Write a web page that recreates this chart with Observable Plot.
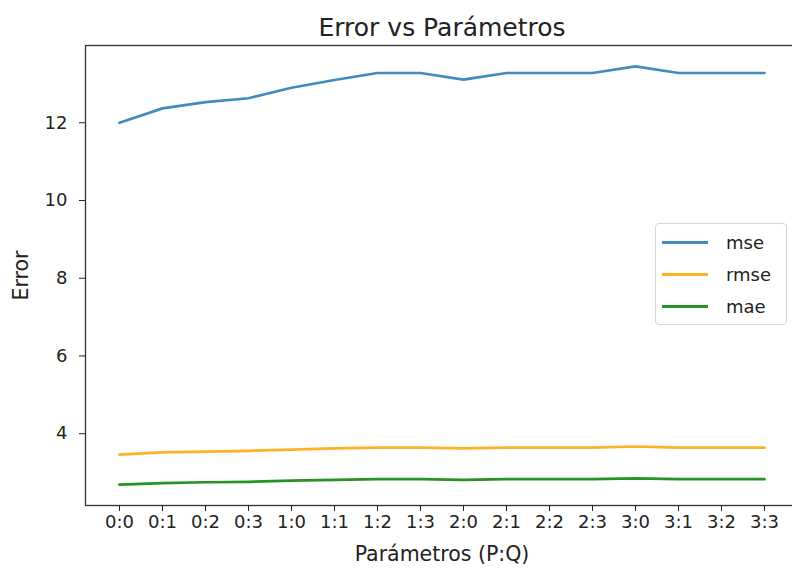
<!DOCTYPE html>
<html><head><meta charset="utf-8">
<script src="https://cdn.jsdelivr.net/npm/d3@7"></script>
<script src="https://cdn.jsdelivr.net/npm/@observablehq/plot@0.6"></script>
<style>
body{margin:0;background:#fff;overflow:hidden;font-family:"DejaVu Sans",sans-serif;}
#wrap{position:relative;width:792px;height:572px;}
#legend{position:absolute;left:655px;top:223px;width:132px;height:102px;border:1px solid #d6d6d6;border-radius:4px;background:rgba(255,255,255,0.85);box-sizing:border-box;}
.item{position:absolute;left:6px;height:20px;display:flex;align-items:center;font-size:18px;color:#222;}
.sw{width:46px;height:3px;margin-right:18px;opacity:0.85;}
</style></head>
<body><div id="wrap"></div>
<script>
const params = ["0:0","0:1","0:2","0:3","1:0","1:1","1:2","1:3","2:0","2:1","2:2","2:3","3:0","3:1","3:2","3:3"];
const metrics = ["mse","rmse","mae"];
const colors = ["#1f77b4","#ffa500","#008000"];
const mse  = [12.00,12.37,12.53,12.63,12.90,13.10,13.28,13.28,13.11,13.28,13.28,13.28,13.45,13.28,13.28,13.28];
const rmse = [3.46,3.52,3.54,3.56,3.59,3.62,3.64,3.64,3.62,3.64,3.64,3.64,3.67,3.64,3.64,3.64];
const mae  = [2.69,2.73,2.75,2.76,2.79,2.81,2.83,2.83,2.81,2.83,2.83,2.83,2.85,2.83,2.83,2.83];
const yTicks = [4,6,8,10,12];
const title = "Error vs Parámetros";
const xLabel = "Parámetros (P:Q)";
const yLabel = "Error";

const seriesVals = {mse, rmse, mae};
const rows = [];
metrics.forEach(m => seriesVals[m].forEach((v,i) => rows.push({param: params[i], metric: m, value: v})));
const [lo, hi] = d3.extent(rows, d => d.value);
const pad = (hi - lo) * 0.05;

const chart = Plot.plot({
  width: 792, height: 572,
  marginLeft: 85, marginRight: -6, marginTop: 45, marginBottom: 67,
  style: {fontFamily: "DejaVu Sans", fontSize: "18px", color: "#222", background: "#fff", overflow: "hidden"},
  x: {type: "point", domain: params, padding: 0.75},
  y: {domain: [lo - pad, hi + pad]},
  color: {domain: metrics, range: colors},
  marks: [
    Plot.axisX({tickSize: 6, tickPadding: 4, label: null, fontSize: 18}),
    Plot.axisY({ticks: yTicks, tickSize: 6, tickPadding: 12, label: null, fontSize: 18}),
    Plot.axisX({ticks: [], tickSize: 0, label: xLabel, labelAnchor: "center", labelArrow: "none", labelOffset: 55, fontSize: 20.5}),
    Plot.axisY({ticks: [], tickSize: 0, label: yLabel, labelAnchor: "center", labelArrow: "none", labelOffset: 72, fontSize: 20.5}),
    Plot.lineY(rows, {x: "param", y: "value", stroke: "metric", z: "metric", strokeWidth: 2.7, strokeOpacity: 0.85}),
    Plot.frame({stroke: "#333", strokeWidth: 1.3}),
    Plot.text([title], {frameAnchor: "top", dy: -27, fontSize: 25, fill: "#222"})
  ]
});
const wrap = document.getElementById("wrap");
wrap.appendChild(chart);

const leg = document.createElement("div");
leg.id = "legend";
metrics.forEach((m, i) => {
  const it = document.createElement("div");
  it.className = "item";
  it.style.top = (8 + i * 32) + "px";
  const sw = document.createElement("span");
  sw.className = "sw";
  sw.style.background = colors[i];
  const tx = document.createElement("span");
  tx.textContent = m;
  it.appendChild(sw); it.appendChild(tx);
  leg.appendChild(it);
});
wrap.appendChild(leg);
</script></body></html>
